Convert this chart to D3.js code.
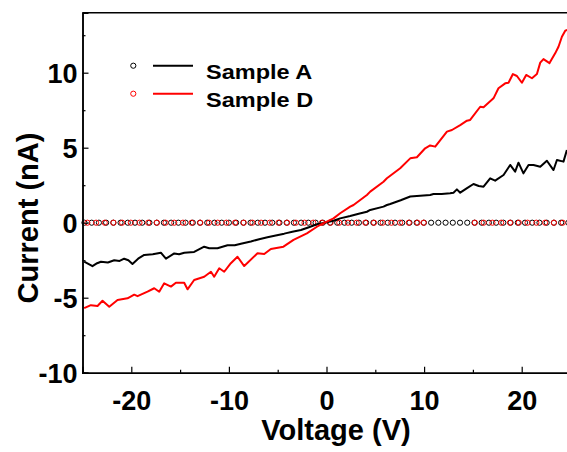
<!DOCTYPE html>
<html>
<head>
<meta charset="utf-8">
<script src="https://cdn.jsdelivr.net/npm/d3@7"></script>
<style>
  body { margin: 0; background: white; }
  svg { display: block; font-family: Arial, 'Liberation Sans', sans-serif; }
</style>
</head>
<body>
<svg id="chart" width="567" height="452"></svg>
<script>
// Sample A I-V curve [voltage V, current nA]
const sampleA = [
  [-24.83, -2.6], [-24.4, -2.75], [-23.98, -2.9], [-23.5, -2.7], [-23.11, -2.6], [-22.4, -2.65],
  [-21.75, -2.5], [-21.2, -2.55], [-20.73, -2.4], [-20.3, -2.5], [-19.88, -2.75], [-19.3, -2.4],
  [-18.68, -2.15], [-17.8, -2.1], [-16.97, -2.0], [-16.45, -2.4], [-15.6, -2.05], [-15.1, -2.1],
  [-14.57, -2.0], [-13.56, -1.95], [-12.53, -1.6], [-12.02, -1.7], [-11.17, -1.7], [-10.14, -1.5],
  [-9.4, -1.5], [-8.77, -1.4], [-7.75, -1.25], [-6.9, -1.1], [-6.05, -0.97], [-5.2, -0.85],
  [-4.33, -0.73], [-3.5, -0.6], [-2.62, -0.49], [-1.8, -0.3], [-0.98, -0.1], [0.0, 0.02],
  [0.72, 0.13], [1.4, 0.29], [2.43, 0.45], [3.3, 0.6], [4.14, 0.73], [4.48, 0.85], [5.84, 1.07],
  [6.19, 1.18], [6.53, 1.25], [7.6, 1.5], [8.58, 1.75], [9.6, 1.8], [10.62, 1.85], [10.96, 1.91],
  [11.8, 1.92], [12.67, 1.96], [13.01, 2.0], [13.36, 2.22], [13.7, 2.0], [14.4, 2.3], [15.06, 2.58],
  [15.6, 2.45], [16.09, 2.4], [16.77, 2.96], [17.28, 2.8], [18.14, 3.18], [18.82, 3.85], [19.33, 3.4],
  [19.67, 4.0], [20.18, 3.29], [20.7, 3.85], [21.21, 3.85], [21.9, 3.73], [22.58, 4.13], [23.26, 3.51],
  [23.61, 4.18], [24.28, 4.07], [24.63, 4.85]
];

// Sample D I-V curve [voltage V, current nA]
const sampleD = [
  [-24.83, -5.7], [-24.14, -5.5], [-23.46, -5.55], [-22.95, -5.2], [-22.26, -5.6], [-21.41, -5.15],
  [-20.39, -5.04], [-19.7, -4.8], [-19.36, -4.9], [-18.34, -4.6], [-17.65, -4.37], [-17.14, -4.6],
  [-16.63, -4.04], [-15.94, -4.26], [-15.43, -4.0], [-14.58, -4.0], [-14.24, -4.44], [-13.56, -3.82],
  [-12.53, -3.6], [-11.84, -3.27], [-11.51, -3.6], [-10.99, -3.04], [-10.48, -3.27], [-9.8, -2.7],
  [-9.12, -2.27], [-8.43, -2.89], [-7.07, -2.04], [-6.38, -2.09], [-5.7, -1.75], [-4.41, -1.6],
  [-3.38, -1.15], [-2.01, -0.71], [-0.98, -0.27], [-0.65, -0.15], [0.72, 0.29], [1.4, 0.63],
  [2.43, 1.07], [2.77, 1.18], [4.14, 1.85], [4.48, 2.07], [5.84, 2.73], [6.19, 2.96], [7.55, 3.63],
  [8.58, 4.29], [9.26, 4.36], [10.11, 4.96], [10.62, 5.15], [11.14, 5.07], [12.34, 6.07],
  [12.85, 6.18], [13.7, 6.51], [14.39, 6.8], [14.72, 6.85], [15.75, 7.73], [16.09, 7.69],
  [17.11, 8.29], [17.62, 8.96], [18.31, 9.29], [18.65, 9.33], [19.1, 9.91], [19.51, 9.78],
  [20.02, 9.33], [20.46, 9.85], [21.05, 9.63], [21.56, 9.91], [21.9, 10.67], [22.23, 10.91],
  [22.85, 10.64], [23.43, 11.29], [23.77, 11.73], [24.12, 12.4], [24.46, 12.8], [24.66, 12.85]
];

// open-circle series sitting at 0 nA (voltages)
const markerVoltsA = [
  -24.8, -24.06, -23.32, -22.58, -21.84, -21.1, -20.36, -19.62, -18.88, -18.14, -17.4, -16.66,
  -15.92, -15.18, -14.44, -13.7, -12.96, -12.22, -11.48, -10.74, -10.0, -9.26, -8.52, -7.78,
  -7.04, -6.3, -5.56, -4.82, -4.08, -3.34, -2.6, -1.86, -1.12, -0.38, 0.36, 1.1, 1.84, 2.58,
  3.32, 4.06, 4.8, 5.54, 6.28, 7.02, 7.76, 8.5, 9.24, 9.98, 10.72, 11.46, 12.2, 12.94, 13.68,
  14.42, 15.16, 15.9, 16.64, 17.38, 18.12, 18.86, 19.6, 20.34, 21.08, 21.82, 22.56, 23.3, 24.04, 24.78
];
const markerVoltsD = [
  -24.5, -23.61, -22.72, -21.83, -20.94, -20.05, -19.16, -18.27, -17.38, -16.49, -15.6, -14.71,
  -13.82, -12.93, -12.04, -11.15, -10.26, -9.37, -8.48, -7.59, -6.7, -5.81, -4.92, -4.03, -3.14,
  -2.25, -1.36, -0.47, 0.42, 1.31, 2.2, 3.09, 3.98, 4.87, 5.76, 6.65, 7.54, 8.43, 9.32, 9.95,
  15.2, 16.1, 17.0, 17.9, 18.8, 19.7, 20.6, 21.5, 22.4, 23.3, 24.2
];

const xMajor = [-20, -10, 0, 10, 20];
const xMinor = [-25, -15, -5, 5, 15, 25];
const yMajor = [-10, -5, 0, 5, 10];
const yMinor = [-7.5, -2.5, 2.5, 7.5, 12.5];
const legendItems = [
  { name: 'Sample A', color: '#000000' },
  { name: 'Sample D', color: '#ff0000' }
];

const svg = d3.select('#chart');
const x = d3.scaleLinear().domain([-25, 25]).range([82.5, 570.5]);
const y = d3.scaleLinear().domain([-10, 14]).range([372.7, 12.7]);

// circles at zero first, lines on top
svg.append('g').selectAll('circle')
  .data(markerVoltsA)
  .enter().append('circle')
  .attr('cx', d => x(d)).attr('cy', y(0)).attr('r', 2.6)
  .attr('fill', 'none').attr('stroke', '#000').attr('stroke-width', 1);

svg.append('g').selectAll('circle')
  .data(markerVoltsD)
  .enter().append('circle')
  .attr('cx', d => x(d)).attr('cy', y(0)).attr('r', 2.6)
  .attr('fill', 'none').attr('stroke', '#ff0000').attr('stroke-width', 1);

const line = d3.line().x(d => x(d[0])).y(d => y(d[1]));

svg.append('path').datum(sampleA)
  .attr('d', line).attr('fill', 'none')
  .attr('stroke', '#000').attr('stroke-width', 2).attr('stroke-linejoin', 'round');

svg.append('path').datum(sampleD)
  .attr('d', line).attr('fill', 'none')
  .attr('stroke', '#ff0000').attr('stroke-width', 2).attr('stroke-linejoin', 'round');

// plain hyphen for negatives, like the original
const fmt = d => String(d);

// axes with inward ticks
svg.append('g')
  .attr('transform', `translate(0,${y(-10)})`)
  .call(d3.axisBottom(x).tickValues(xMajor).tickSize(-6).tickPadding(18).tickFormat(fmt));
svg.append('g')
  .attr('transform', `translate(0,${y(-10)})`)
  .call(d3.axisBottom(x).tickValues(xMinor).tickSize(-3).tickFormat(''));

const yAxis = svg.append('g')
  .attr('transform', `translate(${x(-25)},0)`)
  .call(d3.axisLeft(y).tickValues(yMajor).tickSize(-6).tickPadding(5).tickFormat(fmt));
svg.append('g')
  .attr('transform', `translate(${x(-25)},0)`)
  .call(d3.axisLeft(y).tickValues(yMinor).tickSize(-3).tickFormat(''));

svg.selectAll('.domain').attr('stroke', '#000').attr('stroke-width', 1.5);
svg.selectAll('.tick line').attr('stroke', '#000').attr('stroke-width', 1.2);
svg.selectAll('.tick text')
  .attr('font-family', 'Arial, Liberation Sans, sans-serif')
  .attr('font-size', 27).attr('font-weight', 'bold').attr('fill', '#000');
yAxis.selectAll('.tick text').attr('dy', '0.36em');

// top frame line
svg.append('line')
  .attr('x1', x(-25)).attr('x2', x(25))
  .attr('y1', y(14)).attr('y2', y(14))
  .attr('stroke', '#000').attr('stroke-width', 1.5);

// axis titles
svg.append('text')
  .attr('x', 336).attr('y', 440)
  .attr('text-anchor', 'middle')
  .attr('font-size', 29).attr('font-weight', 'bold')
  .text('Voltage (V)');

svg.append('text')
  .attr('transform', 'translate(38,218) rotate(-90)')
  .attr('text-anchor', 'middle')
  .attr('font-size', 29).attr('font-weight', 'bold')
  .text('Current (nA)');

// legend
const legend = svg.append('g');
legendItems.forEach((item, i) => {
  const ly = 65.7 + i * 28;
  legend.append('circle')
    .attr('cx', 133.3).attr('cy', ly).attr('r', 2.6)
    .attr('fill', 'none').attr('stroke', item.color).attr('stroke-width', 1);
  legend.append('line')
    .attr('x1', 153).attr('x2', 193).attr('y1', ly).attr('y2', ly)
    .attr('stroke', item.color).attr('stroke-width', 2);
  legend.append('text')
    .attr('x', 206).attr('y', ly + 13.8)
    .attr('font-size', 21).attr('font-weight', 'bold')
    .attr('transform', `translate(206,0) scale(1.12,1) translate(-206,0)`)
    .text(item.name);
});
</script>
</body>
</html>
